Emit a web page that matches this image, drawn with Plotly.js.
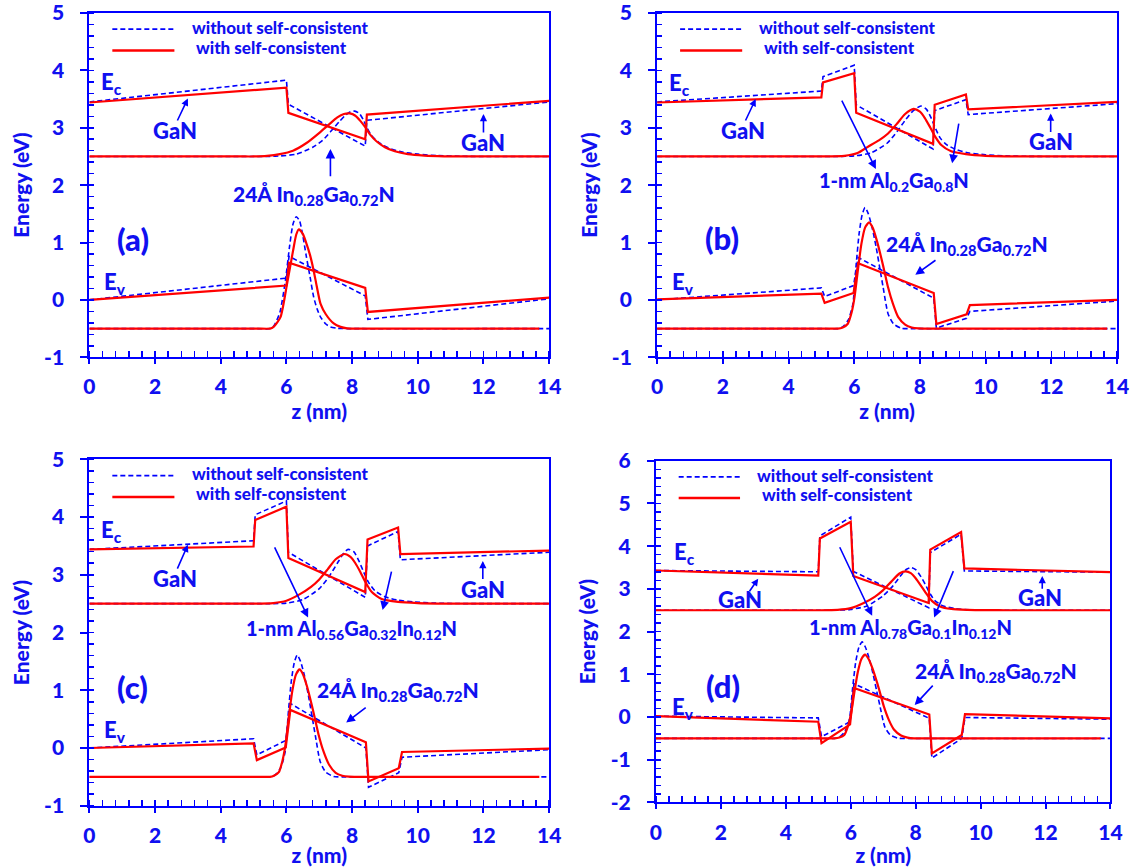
<!DOCTYPE html>
<html>
<head>
<meta charset="utf-8">
<script src="https://cdn.plot.ly/plotly-3.0.1.min.js"></script>
<style>
  html, body { margin: 0; padding: 0; background: #ffffff; }
  #chart { width: 1141px; height: 867px; }
</style>
</head>
<body>
<div id="chart"></div>
<script>
// ---------- axis ticks ----------
const zTickVals = [0, 2, 4, 6, 8, 10, 12, 14];
const zTickText = ['0', '2', '4', '6', '8', '10', '12', '14'];
const eTickVals = [-1, 0, 1, 2, 3, 4, 5];
const eTickText = ['-1', '0', '1', '2', '3', '4', '5'];
const eTickValsD = [-2, -1, 0, 1, 2, 3, 4, 5, 6];
const eTickTextD = ['-2', '-1', '0', '1', '2', '3', '4', '5', '6'];

// ---------- (a) GaN / 24Å InGaN / GaN ----------
const aEcZ  = [0, 6.0, 6.06, 8.4, 8.45, 14];
const aEcNS = [3.45, 3.83, 3.41, 2.68, 3.13, 3.45];
const aEcSC = [3.44, 3.70, 3.26, 2.80, 3.23, 3.47];
const aEvZ  = [0, 6.0, 6.08, 8.4, 8.48, 14];
const aEvNS = [0.0, 0.38, 0.76, 0.07, -0.34, 0.02];
const aEvSC = [0.0, 0.25, 0.65, 0.21, -0.21, 0.04];
const aPsiEZsc = [0, 4.6, 5.0, 5.41, 5.8, 6.2, 6.6, 7.04, 7.3, 7.55, 7.75, 7.93, 8.1, 8.25, 8.4, 8.55, 8.75, 9.0, 9.3, 9.7, 10.2, 10.8, 11.4, 14];
const aPsiESC  = [2.5, 2.5, 2.5, 2.51, 2.54, 2.6, 2.73, 2.93, 3.06, 3.18, 3.24, 3.25, 3.21, 3.12, 3.01, 2.88, 2.76, 2.66, 2.59, 2.54, 2.515, 2.503, 2.5, 2.5];
const aPsiEZns = [0, 5.0, 5.5, 5.82, 6.3, 6.8, 7.1, 7.34, 7.6, 7.8, 7.95, 8.08, 8.22, 8.35, 8.45, 8.6, 8.8, 9.1, 9.5, 10.0, 10.6, 11.3, 11.9, 14];
const aPsiENS  = [2.5, 2.5, 2.5, 2.51, 2.54, 2.66, 2.78, 2.93, 3.1, 3.22, 3.28, 3.29, 3.25, 3.13, 3.0, 2.86, 2.75, 2.65, 2.58, 2.54, 2.515, 2.503, 2.5, 2.5];
const aPsiHZsc = [0, 5.1, 5.5, 5.61, 5.82, 6.02, 6.2, 6.3, 6.38, 6.5, 6.6, 6.72, 6.83, 6.93, 7.04, 7.2, 7.44, 7.65, 7.85, 8.2, 13.7];
const aPsiHSC  = [-0.5, -0.5, -0.5, -0.47, -0.30, 0.28, 0.85, 1.14, 1.23, 1.15, 1.0, 0.78, 0.51, 0.22, -0.07, -0.25, -0.41, -0.47, -0.495, -0.5, -0.5];
const aPsiHZns = [0, 5.1, 5.5, 5.62, 5.8, 5.97, 6.1, 6.2, 6.3, 6.4, 6.5, 6.6, 6.72, 6.83, 6.93, 7.04, 7.2, 7.34, 7.55, 7.9, 14];
const aPsiHNS  = [-0.5, -0.5, -0.5, -0.45, -0.22, 0.34, 0.95, 1.32, 1.45, 1.38, 1.12, 0.78, 0.40, 0.05, -0.15, -0.30, -0.42, -0.47, -0.495, -0.5, -0.5];

// ---------- (b) 1-nm Al0.2Ga0.8N barriers ----------
const bEcZ  = [0, 5.0, 5.05, 6.0, 6.06, 8.4, 8.45, 9.4, 9.47, 14];
const bEcNS = [3.45, 3.64, 3.89, 4.09, 3.40, 2.63, 3.30, 3.49, 3.23, 3.42];
const bEcSC = [3.44, 3.53, 3.79, 3.95, 3.26, 2.72, 3.40, 3.58, 3.32, 3.45];
const bEvZ  = [0, 5.0, 5.1, 5.98, 6.12, 8.42, 8.5, 9.42, 9.52, 14];
const bEvNS = [0.0, 0.21, 0.06, 0.25, 0.74, 0.03, -0.49, -0.32, -0.20, -0.02];
const bEvSC = [0.01, 0.11, -0.05, 0.12, 0.64, 0.12, -0.42, -0.25, -0.09, 0.0];
const bPsiEZsc = [0, 4.6, 5.0, 5.7, 6.1, 6.42, 6.75, 7.03, 7.3, 7.55, 7.81, 8.0, 8.15, 8.3, 8.45, 8.65, 8.95, 9.4, 10.0, 10.6, 11.2, 14];
const bPsiESC  = [2.5, 2.5, 2.5, 2.51, 2.56, 2.67, 2.78, 2.90, 3.07, 3.24, 3.33, 3.28, 3.17, 3.02, 2.86, 2.70, 2.59, 2.54, 2.51, 2.502, 2.5, 2.5];
const bPsiEZns = [0, 5.0, 5.5, 6.0, 6.5, 7.0, 7.3, 7.55, 7.8, 8.03, 8.2, 8.35, 8.48, 8.62, 8.8, 9.1, 9.5, 10.0, 10.6, 11.3, 11.9, 14];
const bPsiENS  = [2.5, 2.5, 2.5, 2.51, 2.56, 2.73, 2.93, 3.13, 3.30, 3.38, 3.32, 3.16, 2.98, 2.82, 2.71, 2.62, 2.56, 2.53, 2.51, 2.502, 2.5, 2.5];
const bPsiHZsc = [0, 5.1, 5.5, 5.65, 5.80, 5.92, 6.01, 6.11, 6.22, 6.33, 6.45, 6.56, 6.68, 6.82, 6.93, 7.03, 7.18, 7.34, 7.55, 7.75, 7.95, 8.3, 13.7];
const bPsiHSC  = [-0.5, -0.5, -0.5, -0.48, -0.42, -0.22, 0.05, 0.51, 0.98, 1.26, 1.35, 1.26, 1.05, 0.74, 0.47, 0.22, -0.07, -0.30, -0.43, -0.48, -0.497, -0.5, -0.5];
const bPsiHZns = [0, 5.1, 5.5, 5.65, 5.82, 5.96, 6.06, 6.15, 6.24, 6.33, 6.43, 6.55, 6.67, 6.78, 6.88, 7.03, 7.2, 7.44, 7.8, 14];
const bPsiHNS  = [-0.5, -0.5, -0.5, -0.47, -0.35, -0.07, 0.62, 1.16, 1.48, 1.61, 1.5, 1.25, 0.91, 0.55, 0.22, -0.24, -0.42, -0.495, -0.5, -0.5];

// ---------- (c) 1-nm Al0.56Ga0.32In0.12N barriers ----------
const cEcZ  = [0, 5.0, 5.05, 6.0, 6.06, 8.4, 8.47, 9.4, 9.47, 14];
const cEcNS = [3.44, 3.59, 4.04, 4.28, 3.39, 2.61, 3.50, 3.75, 3.26, 3.39];
const cEcSC = [3.44, 3.49, 3.95, 4.18, 3.29, 2.70, 3.61, 3.82, 3.36, 3.42];
const cEvZ  = [0, 5.0, 5.1, 5.98, 6.12, 8.42, 8.5, 9.42, 9.52, 14];
const cEvNS = [0.0, 0.16, -0.12, 0.13, 0.77, 0.0, -0.68, -0.43, -0.16, -0.03];
const cEvSC = [0.0, 0.08, -0.21, 0.01, 0.66, 0.10, -0.58, -0.35, -0.07, -0.01];
const cPsiEZsc = [0, 4.6, 5.0, 5.6, 6.0, 6.4, 6.75, 7.0, 7.25, 7.5, 7.77, 7.95, 8.1, 8.25, 8.4, 8.6, 8.9, 9.4, 10.0, 10.6, 11.2, 14];
const cPsiESC  = [2.5, 2.5, 2.5, 2.51, 2.55, 2.66, 2.79, 2.92, 3.09, 3.27, 3.36, 3.31, 3.2, 3.05, 2.88, 2.70, 2.58, 2.53, 2.51, 2.502, 2.5, 2.5];
const cPsiEZns = [0, 5.0, 5.5, 6.0, 6.5, 7.0, 7.3, 7.55, 7.75, 7.88, 8.05, 8.2, 8.35, 8.5, 8.7, 9.0, 9.4, 9.9, 10.5, 11.2, 11.8, 14];
const cPsiENS  = [2.5, 2.5, 2.5, 2.51, 2.57, 2.76, 2.97, 3.2, 3.38, 3.44, 3.4, 3.25, 3.05, 2.87, 2.72, 2.62, 2.56, 2.53, 2.51, 2.502, 2.5, 2.5];
const cPsiHZsc = [0, 5.1, 5.5, 5.62, 5.77, 5.88, 5.97, 6.07, 6.18, 6.29, 6.40, 6.51, 6.63, 6.77, 6.88, 6.98, 7.13, 7.3, 7.5, 7.7, 7.9, 8.25, 13.7];
const cPsiHSC  = [-0.5, -0.5, -0.5, -0.48, -0.42, -0.22, 0.05, 0.52, 0.99, 1.27, 1.36, 1.27, 1.06, 0.75, 0.48, 0.23, -0.06, -0.29, -0.43, -0.48, -0.497, -0.5, -0.5];
const cPsiHZns = [0, 5.1, 5.5, 5.65, 5.82, 5.96, 6.06, 6.15, 6.24, 6.33, 6.43, 6.55, 6.67, 6.78, 6.88, 7.03, 7.2, 7.44, 7.8, 14];
const cPsiHNS  = [-0.5, -0.5, -0.5, -0.47, -0.35, -0.07, 0.62, 1.16, 1.48, 1.61, 1.5, 1.25, 0.91, 0.55, 0.22, -0.24, -0.42, -0.495, -0.5, -0.5];

// ---------- (d) 1-nm Al0.78Ga0.1In0.12N barriers ----------
const dEcZ  = [0, 5.0, 5.05, 6.0, 6.08, 8.4, 8.45, 9.4, 9.5, 14];
const dEcNS = [3.43, 3.40, 4.24, 4.68, 3.41, 2.56, 3.85, 4.28, 3.42, 3.39];
const dEcSC = [3.43, 3.31, 4.18, 4.57, 3.30, 2.67, 3.92, 4.33, 3.48, 3.39];
const dEvZ  = [0, 5.0, 5.1, 5.98, 6.1, 8.42, 8.5, 9.42, 9.52, 14];
const dEvNS = [0.02, -0.02, -0.46, -0.11, 0.78, -0.03, -0.96, -0.50, -0.01, -0.05];
const dEvSC = [0.02, -0.11, -0.61, -0.17, 0.68, 0.06, -0.85, -0.42, 0.07, -0.03];
const dPsiEZsc = [0, 4.6, 5.0, 5.6, 6.0, 6.4, 6.75, 7.0, 7.25, 7.5, 7.69, 7.85, 8.0, 8.15, 8.3, 8.5, 8.75, 9.1, 9.6, 10.2, 10.8, 14];
const dPsiESC  = [2.5, 2.5, 2.5, 2.51, 2.55, 2.67, 2.82, 2.97, 3.17, 3.36, 3.41, 3.37, 3.25, 3.09, 2.92, 2.72, 2.59, 2.53, 2.51, 2.502, 2.5, 2.5];
const dPsiEZns = [0, 5.0, 5.5, 6.0, 6.5, 7.0, 7.3, 7.55, 7.72, 7.86, 8.0, 8.15, 8.3, 8.45, 8.6, 8.85, 9.2, 9.7, 10.3, 10.9, 14];
const dPsiENS  = [2.5, 2.5, 2.5, 2.52, 2.6, 2.84, 3.07, 3.32, 3.46, 3.50, 3.45, 3.3, 3.1, 2.88, 2.72, 2.6, 2.54, 2.51, 2.502, 2.5, 2.5];
const dPsiHZsc = [0, 5.1, 5.5, 5.65, 5.80, 5.92, 6.01, 6.11, 6.22, 6.33, 6.44, 6.55, 6.67, 6.81, 6.92, 7.02, 7.17, 7.33, 7.55, 7.75, 7.95, 8.3, 13.7];
const dPsiHSC  = [-0.5, -0.5, -0.5, -0.48, -0.42, -0.2, 0.08, 0.57, 1.06, 1.36, 1.46, 1.36, 1.14, 0.81, 0.52, 0.25, -0.06, -0.29, -0.43, -0.48, -0.497, -0.5, -0.5];
const dPsiHZns = [0, 5.1, 5.5, 5.65, 5.82, 5.96, 6.06, 6.15, 6.25, 6.35, 6.45, 6.57, 6.69, 6.8, 6.9, 7.05, 7.22, 7.46, 7.8, 14];
const dPsiHNS  = [-0.5, -0.5, -0.5, -0.47, -0.34, -0.05, 0.69, 1.27, 1.63, 1.76, 1.64, 1.37, 1.0, 0.61, 0.26, -0.23, -0.42, -0.495, -0.5, -0.5];

// ---------- labels ----------
const legendNS = 'without self-consistent';
const legendSC = 'with self-consistent';
const wellLabel = '24Å In<sub>0.28</sub>Ga<sub>0.72</sub>N';
const barrierLabels = {
  b: '1-nm Al<sub>0.2</sub>Ga<sub>0.8</sub>N',
  c: '1-nm Al<sub>0.56</sub>Ga<sub>0.32</sub>In<sub>0.12</sub>N',
  d: '1-nm Al<sub>0.78</sub>Ga<sub>0.1</sub>In<sub>0.12</sub>N'
};

// ---------- styling ----------
const BLUE = '#0000ff';
const RED = '#ff0000';
const INK = '#1010f0';
const FONT = 'Lato, "Open Sans", "DejaVu Sans", sans-serif';
const lineNS = { color: BLUE, width: 1.6, dash: '5px,3px' };
const lineSC = { color: RED, width: 2.2 };

// panel frames in paper fractions
const panels = [
  { id: 'a', n: 1, xd: [0.0783, 0.4813], yd: [0.5879, 0.9850], yr: [-1, 5], tv: eTickVals, tt: eTickText,
    ec: [aEcZ, aEcNS, aEcSC], ev: [aEvZ, aEvNS, aEvSC],
    pe: [aPsiEZns, aPsiENS, aPsiEZsc, aPsiESC], ph: [aPsiHZns, aPsiHNS, aPsiHZsc, aPsiHSC] },
  { id: 'b', n: 2, xd: [0.5759, 0.9790], yd: [0.5879, 0.9850], yr: [-1, 5], tv: eTickVals, tt: eTickText,
    ec: [bEcZ, bEcNS, bEcSC], ev: [bEvZ, bEvNS, bEvSC],
    pe: [bPsiEZns, bPsiENS, bPsiEZsc, bPsiESC], ph: [bPsiHZns, bPsiHNS, bPsiHZsc, bPsiHSC] },
  { id: 'c', n: 3, xd: [0.0783, 0.4813], yd: [0.0707, 0.4702], yr: [-1, 5], tv: eTickVals, tt: eTickText,
    ec: [cEcZ, cEcNS, cEcSC], ev: [cEvZ, cEvNS, cEvSC],
    pe: [cPsiEZns, cPsiENS, cPsiEZsc, cPsiESC], ph: [cPsiHZns, cPsiHNS, cPsiHZsc, cPsiHSC] },
  { id: 'd', n: 4, xd: [0.5749, 0.9732], yd: [0.0744, 0.4686], yr: [-2, 6], tv: eTickValsD, tt: eTickTextD,
    ec: [dEcZ, dEcNS, dEcSC], ev: [dEvZ, dEvNS, dEvSC],
    pe: [dPsiEZns, dPsiENS, dPsiEZsc, dPsiESC], ph: [dPsiHZns, dPsiHNS, dPsiHZsc, dPsiHSC] }
];

// text and arrow placement (data coordinates of each panel)
const notes = {
  a: { ec: [0.30, 3.78], ev: [0.40, 0.30], tag: [1.33, 1.06], ganL: [2.61, 2.95], ganR: [11.98, 2.75],
       well: [6.85, 1.83], barrier: null,
       arrows: [[2.66, 3.10, 3.0, 3.51, 0.9], [12.0, 2.89, 12.0, 3.24, 0.9], [7.34, 2.13, 7.34, 2.63, 1.2]] },
  b: { ec: [0.30, 3.76], ev: [0.40, 0.30], tag: [1.99, 1.08], ganL: [2.62, 2.96], ganR: [11.99, 2.76],
       well: [9.43, 0.96], barrier: [7.2, 2.07],
       arrows: [[2.67, 3.10, 3.0, 3.50, 0.9], [11.98, 2.90, 11.98, 3.25, 0.9],
                [5.6, 3.50, 6.66, 2.28, 1.1], [9.19, 3.10, 8.98, 2.38, 1.1], [8.52, 0.71, 7.86, 0.44, 1.1]] },
  c: { ec: [0.30, 3.76], ev: [0.40, 0.30], tag: [1.30, 1.05], ganL: [2.61, 2.94], ganR: [11.98, 2.75],
       well: [9.41, 0.98], barrier: [7.99, 2.06],
       arrows: [[2.66, 3.08, 3.0, 3.52, 0.9], [11.98, 2.90, 11.98, 3.24, 0.9],
                [5.62, 3.50, 6.66, 2.26, 1.1], [9.21, 3.08, 8.93, 2.39, 1.1], [8.46, 0.72, 7.82, 0.44, 1.1]] },
  d: { ec: [0.50, 3.84], ev: [0.44, 0.22], tag: [2.06, 0.73], ganL: [2.59, 2.74], ganR: [11.84, 2.79],
       well: [10.47, 1.06], barrier: [7.83, 2.07],
       arrows: [[2.85, 2.91, 3.15, 3.24, 0.9], [11.9, 2.97, 11.9, 3.30, 0.9],
                [5.64, 4.01, 6.66, 2.37, 1.1], [9.18, 3.45, 8.57, 2.33, 1.1], [8.57, 0.77, 7.97, 0.28, 1.1]] }
};

function font(size, color) {
  return { family: FONT, size: size, color: color || INK, weight: 900 };
}

const traces = [];
const layout = {
  width: 1141, height: 867,
  margin: { l: 0, r: 0, t: 0, b: 0 },
  paper_bgcolor: '#ffffff', plot_bgcolor: '#ffffff',
  showlegend: false,
  annotations: [], shapes: []
};

panels.forEach(p => {
  const xs = p.n === 1 ? '' : String(p.n);
  const xa = 'x' + xs, ya = 'y' + xs;

  function add(z, e, line, smooth) {
    traces.push({
      x: z, y: e, type: 'scatter', mode: 'lines', xaxis: xa, yaxis: ya,
      line: Object.assign({}, line, smooth ? { shape: 'spline', smoothing: 0.6 } : {}),
      hoverinfo: 'skip', showlegend: false
    });
  }
  // dashed curves first, red self-consistent curves on top
  add(p.ec[0], p.ec[1], lineNS, false);
  add(p.ev[0], p.ev[1], lineNS, false);
  add(p.pe[0], p.pe[1], lineNS, true);
  add(p.ph[0], p.ph[1], lineNS, true);
  add(p.ec[0], p.ec[2], lineSC, false);
  add(p.ev[0], p.ev[2], lineSC, false);
  add(p.pe[2], p.pe[3], lineSC, true);
  add(p.ph[2], p.ph[3], lineSC, true);

  layout['xaxis' + xs] = {
    domain: p.xd, anchor: ya, range: [0, 14],
    tickmode: 'array', tickvals: zTickVals, ticktext: zTickText,
    ticks: 'outside', ticklen: 5, tickwidth: 2, tickcolor: BLUE,
    minor: { tickmode: 'linear', tick0: 0, dtick: 0.4, ticks: 'inside', ticklen: 6, tickwidth: 1.5, tickcolor: BLUE, showgrid: false },
    showline: true, linecolor: BLUE, linewidth: 2, mirror: true,
    showgrid: false, zeroline: false, fixedrange: true,
    tickfont: font(21), ticklabelstandoff: 5, ticklabeloverflow: 'allow',
    title: { text: 'z (nm)', font: font(21), standoff: 2 }
  };
  layout['yaxis' + xs] = {
    domain: p.yd, anchor: xa, range: p.yr,
    tickmode: 'array', tickvals: p.tv, ticktext: p.tt,
    ticks: 'outside', ticklen: 7, tickwidth: 2, tickcolor: BLUE,
    minor: { tickmode: 'linear', tick0: 0, dtick: 0.2, ticks: 'inside', ticklen: 5, tickwidth: 1.5, tickcolor: BLUE, showgrid: false },
    showline: true, linecolor: BLUE, linewidth: 2, mirror: true,
    showgrid: false, zeroline: false, fixedrange: true,
    tickfont: font(21), ticklabelstandoff: 12, ticklabeloverflow: 'allow',
    title: { text: 'Energy (eV)', font: font(21), standoff: 9 }
  };
  // inner halves of the major ticks
  layout['xaxis' + (p.n + 4)] = {
    overlaying: xa, anchor: ya, range: [0, 14], side: 'bottom',
    tickmode: 'array', tickvals: zTickVals, ticks: 'inside', ticklen: 6, tickwidth: 2, tickcolor: BLUE,
    showticklabels: false, showline: false, showgrid: false, zeroline: false, fixedrange: true
  };
  layout['yaxis' + (p.n + 4)] = {
    overlaying: ya, anchor: xa, range: p.yr, side: 'left',
    tickmode: 'array', tickvals: p.tv, ticks: 'inside', ticklen: 6, tickwidth: 2, tickcolor: BLUE,
    showticklabels: false, showline: false, showgrid: false, zeroline: false, fixedrange: true
  };

  // legend keys
  layout.shapes.push(
    { type: 'line', xref: xa + ' domain', yref: ya + ' domain', x0: 0.05, x1: 0.185, y0: 0.953, y1: 0.953, line: { color: BLUE, width: 1.8, dash: '5px,3px' } },
    { type: 'line', xref: xa + ' domain', yref: ya + ' domain', x0: 0.05, x1: 0.185, y0: 0.891, y1: 0.891, line: { color: RED, width: 2.5 } }
  );
  layout.annotations.push(
    { xref: xa + ' domain', yref: ya + ' domain', x: 0.218, y: 0.958, xanchor: 'left', yanchor: 'middle', text: legendNS, showarrow: false, font: font(17) },
    { xref: xa + ' domain', yref: ya + ' domain', x: 0.228, y: 0.901, xanchor: 'left', yanchor: 'middle', text: legendSC, showarrow: false, font: font(17) }
  );

  const nt = notes[p.id];
  function label(pos, text, size, anchor) {
    layout.annotations.push({ xref: xa, yref: ya, x: pos[0], y: pos[1], text: text, showarrow: false,
      xanchor: anchor || 'center', yanchor: 'middle', font: font(size) });
  }
  label(nt.ec, 'E<sub>c</sub>', 22, 'left');
  label(nt.ev, 'E<sub>v</sub>', 22, 'left');
  label(nt.tag, '(' + p.id + ')', 31);
  label(nt.ganL, 'GaN', 22);
  label(nt.ganR, 'GaN', 22);
  label(nt.well, wellLabel, 21);
  if (nt.barrier) label(nt.barrier, barrierLabels[p.id], 20);
  nt.arrows.forEach(a => {
    layout.annotations.push({ xref: xa, yref: ya, axref: xa, ayref: ya,
      ax: a[0], ay: a[1], x: a[2], y: a[3], text: '', showarrow: true,
      arrowhead: 2, arrowsize: a[4], arrowwidth: 1.6, arrowcolor: BLUE });
  });
});

Plotly.newPlot('chart', traces, layout, { staticPlot: true, displayModeBar: false });
</script>
</body>
</html>
